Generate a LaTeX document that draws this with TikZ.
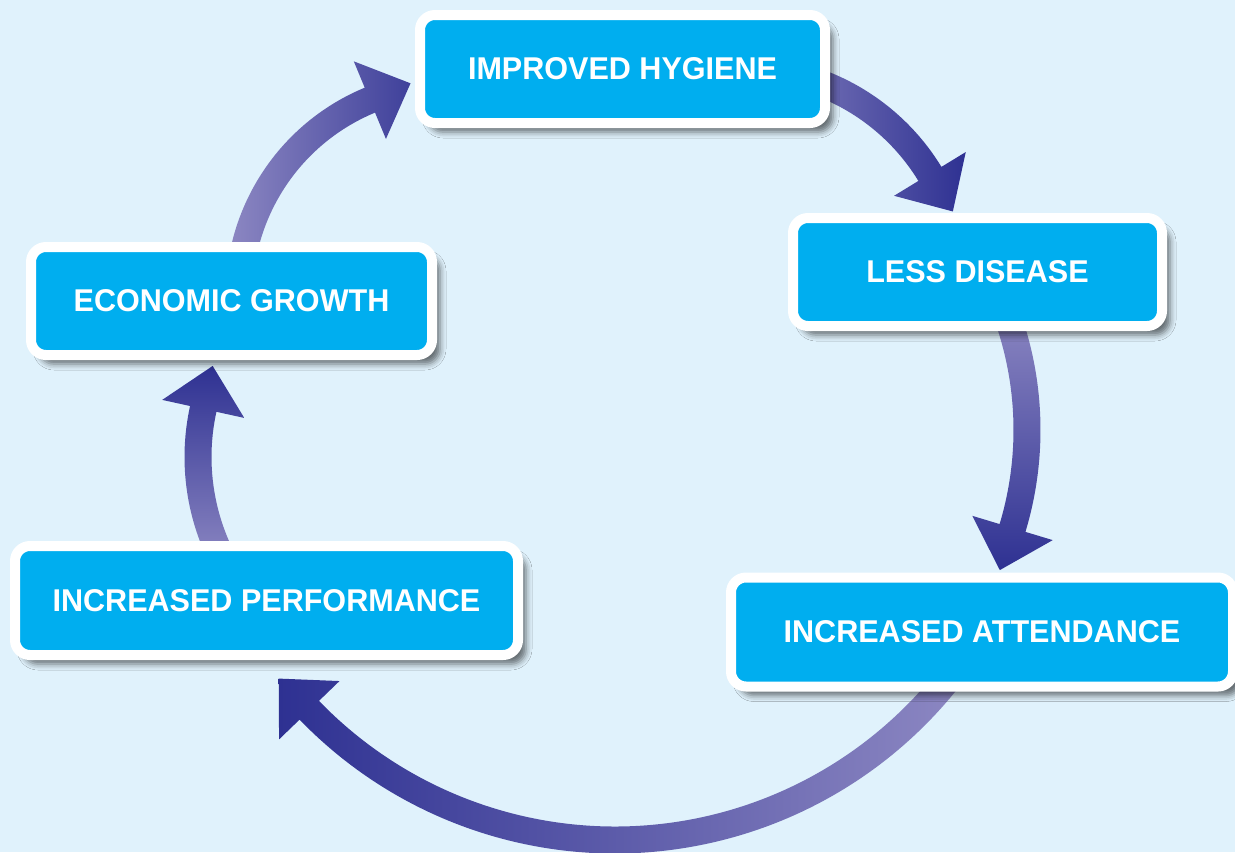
\documentclass[tikz,border=0pt]{standalone}
\usepackage{fontspec}
\setmainfont[FakeStretch=0.97]{Liberation Sans}
\usetikzlibrary{calc,shadows.blur}

\definecolor{bgblue}{HTML}{E0F2FC}
\definecolor{boxcyan}{HTML}{00AEEF}
\definecolor{arrowlight}{HTML}{8C87C2}
\definecolor{arrowdark}{HTML}{2E3192}

\tikzset{
  phase/.style={rectangle, rounded corners=15pt, draw=white, line width=10pt,
    fill=boxcyan, text=white, inner sep=0pt,
    font=\fontsize{31.5}{36}\selectfont\bfseries,
    blur shadow={shadow xshift=8pt, shadow yshift=-9pt, shadow blur radius=6pt, shadow opacity=55}}
}

% curved arrow: centre, radius, start angle, end angle, shading
\newcommand{\cyclearrow}[5]{%
  \shade[#5] (#1) ++({#3}:{#2+13.5}) arc[start angle=#3, end angle=#4, radius=#2+13.5]
    -- ($(#1)+({#4}:{#2+42})$) -- ($(#1)+({#4}:{#2})+({#4+90}:44)$)
    -- ($(#1)+({#4}:{#2-42})$) -- ($(#1)+({#4}:{#2-13.5})$)
    arc[start angle=#4, end angle=#3, radius=#2-13.5] -- cycle;}

\begin{document}
\begin{tikzpicture}[x=1pt,y=-1pt]
\fill[bgblue] (0,0) rectangle (1235,852);
\useasboundingbox (0,0) rectangle (1235,852);
% arc centres
\coordinate (c1) at (451,296);
\coordinate (c2) at (743,288);
\coordinate (c3) at (688,430);
\coordinate (c4) at (615,415);
\coordinate (c5) at (422,457);
\cyclearrow{c1}{212}{190}{247.5}{left color=arrowlight, right color=arrowdark}
\cyclearrow{c2}{219}{-75}{-31.4}{left color=arrowlight, right color=arrowdark}
\cyclearrow{c3}{339}{-20}{16.8}{top color=arrowlight, bottom color=arrowdark}
\cyclearrow{c4}{425}{38}{136}{left color=arrowdark, right color=arrowlight}
\cyclearrow{c5}{224}{153}{192.4}{top color=arrowdark, bottom color=arrowlight}
% boxes
\node[phase, minimum width=405pt, minimum height=108pt] (hygiene) at (622.5,69) {IMPROVED HYGIENE};
\node[phase, minimum width=369pt, minimum height=108pt] (disease) at (977.5,272) {LESS DISEASE};
\node[phase, minimum width=502pt, minimum height=109pt] (attendance) at (982,632) {INCREASED ATTENDANCE};
\node[phase, minimum width=503pt, minimum height=109pt] (performance) at (266.5,600.5) {INCREASED PERFORMANCE};
\node[phase, minimum width=401pt, minimum height=108pt] (growth) at (231.5,301) {ECONOMIC GROWTH};
\end{tikzpicture}
\end{document}
